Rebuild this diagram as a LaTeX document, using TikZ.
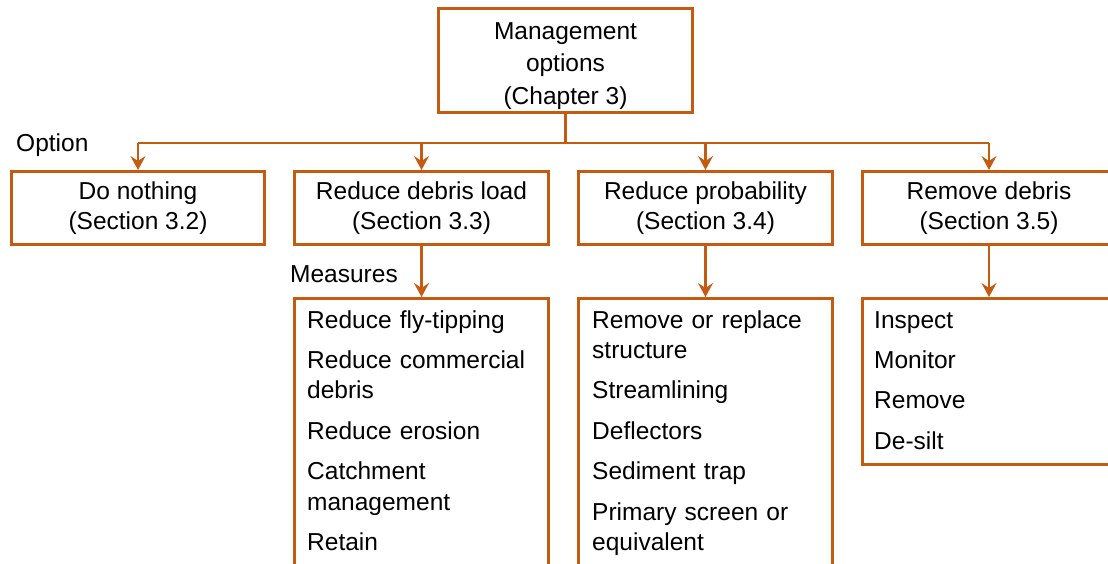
\documentclass[tikz,border=0pt]{standalone}
\usepackage{fontspec}
\setmainfont{Liberation Sans}
\usetikzlibrary{arrows.meta}
\definecolor{rust}{HTML}{C55A11}
\begin{document}
\begin{tikzpicture}[x=1pt,y=-1pt,
  box/.style={draw=rust, line width=3pt, rectangle, inner sep=0pt, anchor=north west},
  link/.style={draw=rust, line width=2.7pt},
  arr/.style={link, -{Stealth[length=14pt,width=15pt,inset=5pt]}},
  txt/.style={font=\fontsize{24.5}{29.5}\selectfont, inner sep=0pt},
  list/.style={inner sep=0pt, font=\fontsize{24.5}{30.4}\selectfont,
               anchor=base west, text width=235pt, align=left},
  ]
\useasboundingbox (0,0) rectangle (1108,564);
\clip (0,0) rectangle (1108,564);

% top level
\node[box, minimum width=254pt, minimum height=104pt] (top) at (437,7) {};
\node[inner sep=0pt, align=center, font=\fontsize{24.5}{32.5}\selectfont]
      (toptxt) at ([yshift=-5.5pt]top.center) {Management\\options\\(Chapter 3)};

% options
\node[box, txt, minimum width=253pt, minimum height=73pt, align=center] (o1) at (10,170)
      {Do nothing\\(Section 3.2)};
\node[box, txt, minimum width=254pt, minimum height=73pt, align=center] (o2) at (293,170)
      {Reduce debris load\\(Section 3.3)};
\node[box, txt, minimum width=254pt, minimum height=73pt, align=center] (o3) at (577,170)
      {Reduce probability\\(Section 3.4)};
\node[box, txt, minimum width=253pt, minimum height=73pt, align=center] (o4) at (861,170)
      {Remove debris\\(Section 3.5)};

% measures
\node[box, minimum width=254pt, minimum height=320pt] (m2) at (293,297) {};
\node[box, minimum width=254pt, minimum height=320pt] (m3) at (577,297) {};
\node[box, minimum width=253pt, minimum height=166pt] (m4) at (861,297) {};

\node[list] (l2) at (307,328)
  {Reduce fly-tipping\\[10pt]Reduce commercial\\debris\\[10pt]Reduce erosion\\[10pt]Catchment\\management\\[10pt]Retain};
\node[list] (l3) at (592,328)
  {Remove or replace\\structure\\[10pt]Streamlining\\[10pt]Deflectors\\[10pt]Sediment trap\\[10pt]Primary screen or\\equivalent};
\node[list] (l4) at (874,328)
  {Inspect\\[10pt]Monitor\\[10pt]Remove\\[10pt]De-silt};

% labels
\node[txt, anchor=base west] (optlab) at (16,152) {Option};
\node[txt, anchor=base west] (measlab) at (290,282) {Measures};

% connectors
\draw[link] (top.south) -- ++(0,29) coordinate (bus);
\draw[link] (bus -| o1.north) -- (bus -| o4.north);
\foreach \o in {o1,o2,o3,o4}
  \draw[arr] (bus -| \o.north) -- (\o.north);
\draw[arr] (o2.south) -- (m2.north);
\draw[arr] (o3.south) -- (m3.north);
\draw[arr] (o4.south) -- (m4.north);
\end{tikzpicture}
\end{document}
